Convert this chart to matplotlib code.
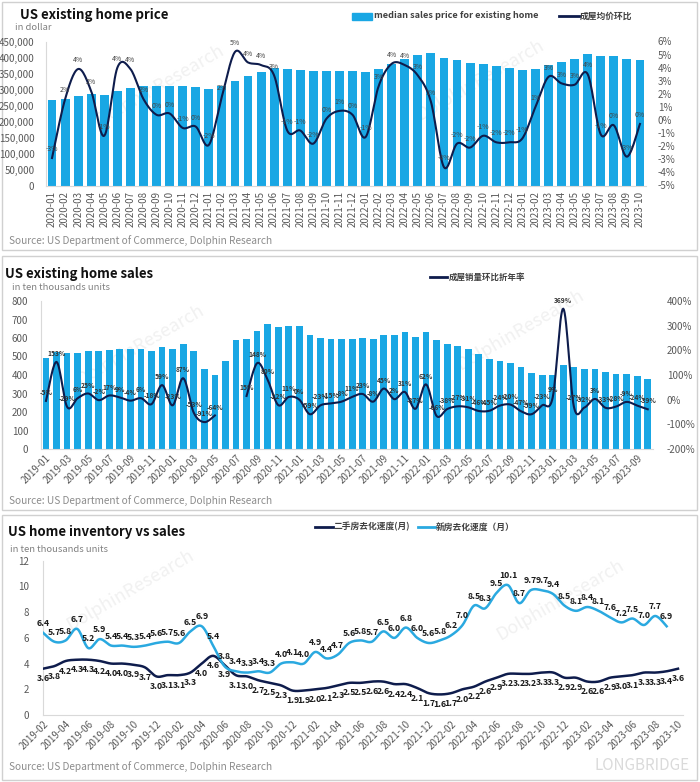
import numpy as np
import pandas as pd
import matplotlib
matplotlib.use('Agg')
import matplotlib.pyplot as plt
from matplotlib.patches import Rectangle
from matplotlib.ticker import FuncFormatter

plt.rcParams['font.family'] = ['Noto Sans CJK SC', 'DejaVu Sans']

# ---------------- data ----------------
months1 = [str(p) for p in pd.period_range('2020-01', '2023-10', freq='M')]
price = [268000, 271000, 280000, 287500, 284000, 295000, 305000, 310000, 310000, 312000, 310000, 308000,
         303000, 311000, 327000, 341000, 354000, 367000, 365000, 361000, 357000, 357000, 359000, 359000,
         354000, 365000, 380000, 396000, 409000, 413000, 399000, 393000, 384000, 379000, 374000, 367000,
         361000, 363000, 377000, 385000, 396000, 411000, 406000, 404000, 394000, 393000]
price_mom = [-2.9, 1.6, 3.9, 2.2, -1.2, 4.0, 3.9, 1.6, 0.4, 0.5, -0.6, -0.5,
             -1.9, 1.8, 5.2, 4.4, 4.2, 3.4, -0.8, -0.8, -1.8, 0.1, 0.7, 0.4,
             -1.3, 2.6, 4.3, 4.2, 3.4, 1.4, -3.6, -1.8, -2.1, -1.2, -1.7, -1.7,
             -1.4, 1.0, 3.3, 2.8, 2.7, 3.5, -1.1, -0.4, -2.8, -0.3]

months2 = [str(p) for p in pd.period_range('2019-01', '2023-10', freq='M')]
sales = [494, 526, 521, 521, 530, 530, 535, 539, 539, 539, 530, 550,
         539, 568, 532, 434, 398, 476, 589, 595, 640, 674, 658, 663,
         663, 616, 602, 595, 595, 595, 602, 596, 616, 616, 631, 607,
         632, 589, 569, 555, 539, 514, 486, 476, 465, 441, 409, 400,
         400, 452, 441, 431, 431, 415, 405, 404, 395, 380]
sales_ann = [-5, 153, -29, 6, 25, -2, 17, 9, -4, 6, -18, 59,
             -23, 87, -53, -91, -64, np.nan, np.nan, 15, 148, 80, -22, 11,
             0, -59, -23, -15, -8, 11, 23, -8, 45, 2, 31, -37,
             62, -66, -38, -27, -31, -46, -45, -24, -20, -47, -59, -23,
             9, 369, -27, -32, 3, -33, -28, -9, -24, -39]

months3 = [str(p) for p in pd.period_range('2019-02', '2023-10', freq='M')]
existing_supply = [3.6, 3.8, 4.2, 4.3, 4.3, 4.2, 4.0, 4.0, 3.9, 3.7, 3.0, 3.1, 3.1, 3.3, 4.0, 4.6, 3.9,
                   3.1, 3.0, 2.7, 2.5, 2.3, 1.9, 1.9, 2.0, 2.1, 2.3,
                   2.5, 2.5, 2.6, 2.6, 2.4, 2.4, 2.1, 1.7, 1.6, 1.7, 2.0, 2.2, 2.6, 2.9, 3.2, 3.2,
                   3.2, 3.3, 3.3, 2.9, 2.9, 2.6, 2.6, 2.9, 3.0, 3.1, 3.3, 3.3, 3.4, 3.6]
new_supply = [6.4, 5.7, 5.8, 6.7, 5.2, 5.9, 5.4, 5.4, 5.3, 5.4, 5.6, 5.7, 5.6, 6.5, 6.9, 5.4, 3.8,
              3.4, 3.3, 3.4, 3.3, 4.0, 4.1, 4.0, 4.9, 4.4, 4.7,
              5.6, 5.8, 5.7, 6.5, 6.0, 6.8, 6.0, 5.6, 5.8, 6.2, 7.0, 8.5, 8.3, 9.5, 10.1, 8.7,
              9.7, 9.7, 9.4, 8.5, 8.1, 8.4, 8.1, 7.6, 7.2, 7.5, 7.0, 7.7, 6.9]

SOURCE = 'Source: US Department of Commerce, Dolphin Research'
BAR = '#19A7E4'
NAVY = '#0E1C4C'
LIGHT = '#2AA9E0'
TICK = '#595959'
SPINE = '#D9D9D9'

# ---------------- helpers ----------------
W, H = 700, 782
fig = plt.figure(figsize=(7, 7.82), dpi=100)


def rect(l, t, r, b):
    return [l / W, 1 - b / H, (r - l) / W, (b - t) / H]


bg = fig.add_axes([0, 0, 1, 1], zorder=0)
bg.set_xlim(0, W)
bg.set_ylim(H, 0)
bg.axis('off')


def smooth(xs, ys, n=16):
    pts = np.column_stack([xs, ys]).astype(float)
    out = [pts[0]]
    for i in range(len(pts) - 1):
        p0 = pts[i - 1] if i > 0 else pts[i]
        p1, p2 = pts[i], pts[i + 1]
        p3 = pts[i + 2] if i + 2 < len(pts) else pts[i + 1]
        c1 = p1 + (p2 - p0) / 6
        c2 = p2 - (p3 - p1) / 6
        t = np.linspace(0, 1, n)[1:, None]
        seg = (1 - t) ** 3 * p1 + 3 * (1 - t) ** 2 * t * c1 + 3 * (1 - t) * t ** 2 * c2 + t ** 3 * p2
        out.extend(seg)
    return np.array(out)


def plot_smooth(ax, xs, ys, **kw):
    xs = np.asarray(xs, float)
    ys = np.asarray(ys, float)
    ok = ~np.isnan(ys)
    start = None
    for i in range(len(ys) + 1):
        if i < len(ys) and ok[i]:
            if start is None:
                start = i
        else:
            if start is not None:
                s = smooth(xs[start:i], ys[start:i])
                ax.plot(s[:, 0], s[:, 1], **kw)
                start = None


def style_axes(ax):
    for s in ['top', 'right']:
        ax.spines[s].set_visible(False)
    ax.spines['left'].set_color(SPINE)
    ax.spines['bottom'].set_color(SPINE)
    ax.patch.set_alpha(0)
    ax.tick_params(length=0, colors=TICK, labelsize=7)


def frame(t, b):
    bg.add_patch(Rectangle((2, t), 695, b - t, fill=False, ec='#D0D0D0', lw=1))


def title(x, y, s, subx, sub, sy):
    bg.text(x, y, s, fontsize=9.5, fontweight='bold', color='#111111', va='center', ha='left')
    bg.text(subx, sy, sub, fontsize=6.8, color='#808080', va='center', ha='left')


def source(y):
    bg.text(9, y, SOURCE, fontsize=7.3, color='#8C8C8C', va='center', ha='left')


def watermark(x, y):
    bg.text(x, y, 'DolphinResearch', fontsize=13, color='#F1F1F1', rotation=30,
            ha='center', va='center', zorder=0)


frame(2, 250)
frame(256, 510)
frame(515, 780)
for (wx, wy) in [(160, 85), (480, 80), (140, 345), (520, 330), (130, 590), (560, 600)]:
    watermark(wx, wy)

# ---------------- panel 1 ----------------
title(20, 15, 'US existing home price', 15, 'in dollar', 27)
source(241)
ax1 = fig.add_axes(rect(45.5, 41.5, 646.5, 185.5), zorder=1)
x1 = np.arange(len(months1))
ax1.bar(x1, price, width=0.68, color=BAR, zorder=2)
ax1.set_xlim(-0.5, len(months1) - 0.5)
ax1.set_ylim(0, 450000)
ax1.set_yticks(np.arange(0, 450001, 50000))
ax1.yaxis.set_major_formatter(FuncFormatter(lambda v, p: f'{int(v):,}'))
ax1.set_xticks(x1)
ax1.set_xticklabels(months1, rotation=90)
style_axes(ax1)
ax1.tick_params(axis='y', pad=8)
ax1.tick_params(axis='x', pad=4)
ax1b = ax1.twinx()
ax1b.set_ylim(-5, 6)
ax1b.set_yticks(np.arange(-5, 7, 1))
ax1b.yaxis.set_major_formatter(FuncFormatter(lambda v, p: f'{int(round(v))}%'))
for s in ax1b.spines.values():
    s.set_visible(False)
ax1b.tick_params(length=0, colors=TICK, labelsize=7, pad=8)
plot_smooth(ax1b, x1, price_mom, color=NAVY, lw=1.5, zorder=3)
for i, v in enumerate(price_mom):
    ax1b.annotate(f'{int(round(v))}%', (i, v), xytext=(0, 3.5), textcoords='offset points',
                  ha='center', va='bottom', fontsize=5, color='#444444', zorder=4)
# legend 1
bg.add_patch(Rectangle((352, 12.5), 20, 7, color=BAR))
bg.text(374, 16, 'median sales price for existing home', fontsize=6.6, fontweight='bold',
        color='#404040', va='center', ha='left')
bg.plot([559, 579], [16, 16], color=NAVY, lw=2)
bg.text(580, 16, '成屋均价环比', fontsize=6.3, fontweight='bold', color='#404040', va='center', ha='left')

# ---------------- panel 2 ----------------
title(5, 274, 'US existing home sales', 12, 'in ten thousands units', 288)
source(501)
ax2 = fig.add_axes(rect(40.7, 301, 653, 449), zorder=1)
x2 = np.arange(len(months2))
ax2.bar(x2, sales, width=0.64, color=BAR, zorder=2)
ax2.set_xlim(-0.5, len(months2) - 0.5)
ax2.set_ylim(0, 800)
ax2.set_yticks(np.arange(0, 801, 100))
ax2.set_xticks(x2[::2])
ax2.set_xticklabels(months2[::2], rotation=45, ha='right', rotation_mode='anchor')
style_axes(ax2)
ax2.tick_params(axis='y', pad=9)
ax2.tick_params(axis='x', pad=3)
ax2b = ax2.twinx()
ax2b.set_ylim(-200, 400)
ax2b.set_yticks(np.arange(-200, 401, 100))
ax2b.yaxis.set_major_formatter(FuncFormatter(lambda v, p: f'{int(v)}%'))
for s in ax2b.spines.values():
    s.set_visible(False)
ax2b.tick_params(length=0, colors=TICK, labelsize=7, pad=10)
plot_smooth(ax2b, x2, sales_ann, color=NAVY, lw=1.5, zorder=3)
for i, v in enumerate(sales_ann):
    if np.isnan(v):
        continue
    ax2b.annotate(f'{int(v)}%', (i, v), xytext=(0, 3.5), textcoords='offset points',
                  ha='center', va='bottom', fontsize=4.8, fontweight='bold', color='#333333', zorder=4)
bg.plot([430, 447], [277, 277], color=NAVY, lw=2)
bg.text(449, 277, '成屋销量环比折年率', fontsize=6.1, fontweight='bold', color='#404040', va='center', ha='left')

# ---------------- panel 3 ----------------
title(8, 532, 'US home inventory vs sales', 10, 'in ten thousands units', 549)
source(767)
bg.text(690, 765, 'LONGBRIDGE', fontsize=11, color='#DADADA', ha='right', va='center')
ax3 = fig.add_axes(rect(43, 560.7, 683, 715), zorder=1)
x3 = np.arange(len(months3))
ax3.set_xlim(0, (len(months3) - 1) * 640 / 635)
ax3.set_ylim(0, 12)
ax3.set_yticks(np.arange(0, 13, 2))
ax3.set_xticks(x3[::2])
ax3.set_xticklabels(months3[::2], rotation=45, ha='right', rotation_mode='anchor')
style_axes(ax3)
ax3.tick_params(axis='y', pad=10)
ax3.tick_params(axis='x', pad=3)
plot_smooth(ax3, x3, existing_supply, color=NAVY, lw=1.8, zorder=3)
xn = np.arange(len(new_supply))
plot_smooth(ax3, xn, new_supply, color=LIGHT, lw=1.8, zorder=3)
for i, v in enumerate(existing_supply):
    ax3.annotate(f'{v:.1f}', (i, v), xytext=(0, -4), textcoords='offset points',
                 ha='center', va='top', fontsize=6.3, fontweight='bold', color='#1A1A1A', zorder=4)
for i, v in enumerate(new_supply):
    ax3.annotate(f'{v:.1f}', (i, v), xytext=(0, 3.5), textcoords='offset points',
                 ha='center', va='bottom', fontsize=6.3, fontweight='bold', color='#1A1A1A', zorder=4)
bg.plot([315, 333], [527, 527], color=NAVY, lw=2)
bg.text(334, 527, '二手房去化速度(月)', fontsize=6.3, fontweight='bold', color='#404040', va='center', ha='left')
bg.plot([418, 435], [527, 527], color=LIGHT, lw=2)
bg.text(436, 527, '新房去化速度（月）', fontsize=6.3, fontweight='bold', color='#404040', va='center', ha='left')

fig.savefig('out.png', dpi=100)
